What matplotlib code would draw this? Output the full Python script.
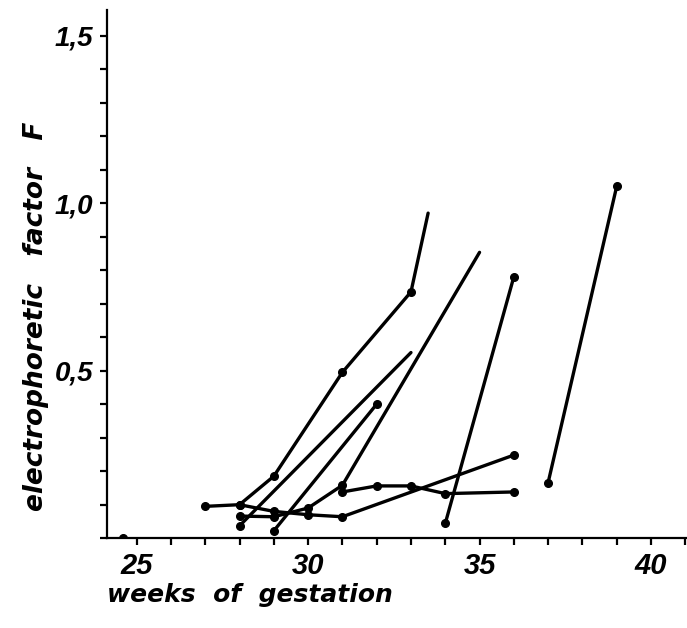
import matplotlib
matplotlib.use("Agg")
import matplotlib.pyplot as plt
from matplotlib.font_manager import FontProperties
from matplotlib.ticker import MultipleLocator, FixedLocator, FuncFormatter

# serial measurements per infant: weeks, factor F; n_marked = points drawn with a dot
# (the trailing point of some curves is an extrapolated end without a dot)
series = [
    ([28, 29, 31, 33, 33.5], [0.10, 0.185, 0.495, 0.735, 0.97], 4),
    ([27, 28, 29, 30, 31, 36], [0.095, 0.10, 0.08, 0.07, 0.064, 0.248], 6),
    ([28, 33], [0.037, 0.554], 1),
    ([29, 32], [0.022, 0.40], 2),
    ([28, 29, 30, 31, 35], [0.066, 0.064, 0.09, 0.158, 0.853], 4),
    ([31, 32, 33, 34, 36], [0.138, 0.156, 0.156, 0.133, 0.138], 5),
    ([34, 36], [0.044, 0.78], 2),
    ([37, 39], [0.166, 1.05], 2),
    ([24.6], [0.0], 1),
]

x_labels = [25, 30, 35, 40]
y_labels = [0.5, 1.0, 1.5]

fig = plt.figure(figsize=(6.87, 6.28), dpi=100)
ax = fig.add_axes([0.156, 0.143, 0.844, 0.841])

for xs, ys, n in series:
    ax.plot(xs, ys, "-", color="black", lw=2.4, solid_capstyle="round")
    ax.plot(xs[:n], ys[:n], "o", color="black", ms=5.5)

ax.set_xlim(24.14, 41.05)
ax.set_ylim(0, 1.576)
for s in ("top", "right"):
    ax.spines[s].set_visible(False)
for s in ("left", "bottom"):
    ax.spines[s].set_linewidth(1.6)

xtick_font = FontProperties(family="Liberation Sans", style="italic", weight="bold", size=21)
ytick_font = FontProperties(family="Liberation Sans", style="italic", weight="bold", size=20)

ax.xaxis.set_major_locator(FixedLocator(x_labels))
ax.xaxis.set_minor_locator(MultipleLocator(1))
ax.yaxis.set_major_locator(FixedLocator(y_labels))
ax.yaxis.set_minor_locator(MultipleLocator(0.1))
ax.yaxis.set_major_formatter(FuncFormatter(lambda v, p: f"{v:.1f}".replace(".", ",")))
ax.tick_params(which="both", direction="out", width=1.6, length=5, pad=5)
for lab in ax.get_xticklabels():
    lab.set_fontproperties(xtick_font)
for lab in ax.get_yticklabels():
    lab.set_fontproperties(ytick_font)

ax.set_xlabel("weeks  of  gestation", family="DejaVu Sans", style="italic",
              weight="bold", size=18, loc="left", labelpad=2)
ax.set_ylabel("electrophoretic   factor   F", family="DejaVu Sans", style="italic",
              weight="bold", size=19)
ax.yaxis.set_label_coords(-0.1, 0.42)

fig.savefig("out.png", dpi=100)
